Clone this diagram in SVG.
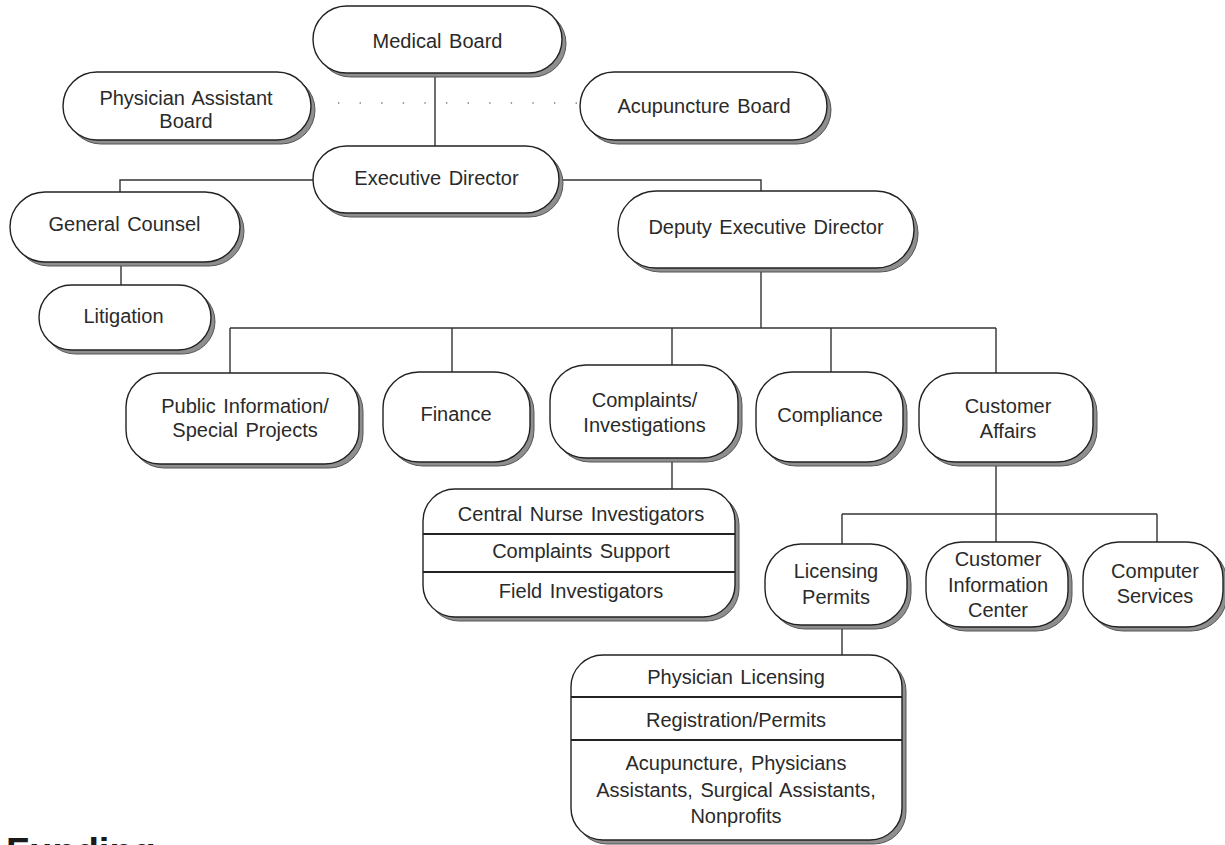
<svg xmlns="http://www.w3.org/2000/svg" width="1225" height="845" viewBox="0 0 1225 845">
<style>
.sh{fill:#8e8e8e;stroke:#555;stroke-width:1}
.bx{fill:#fff;stroke:#222;stroke-width:1.4}
.ln{stroke:#333;stroke-width:1.4;fill:none}
.dv{stroke:#222;stroke-width:2}
text{font-family:"Liberation Sans",Arial,sans-serif;font-size:20px;fill:#2a2a2a;text-anchor:middle;word-spacing:2px}
.big{font-size:38px;font-weight:bold;text-anchor:start;fill:#1a1a1a;word-spacing:0}
</style>
<rect width="1225" height="845" fill="#fff"/>
<g id="connectors">
<line class="ln" x1="435" y1="73" x2="435" y2="146"/>
<line x1="338" y1="103" x2="578" y2="103" stroke="#777" stroke-width="1.3" stroke-dasharray="1.3 20.3"/>
<polyline class="ln" points="313,180 120,180 120,192"/>
<polyline class="ln" points="559,180 761,180 761,191"/>
<line class="ln" x1="121" y1="262" x2="121" y2="285"/>
<line class="ln" x1="761" y1="268" x2="761" y2="328"/>
<line class="ln" x1="230" y1="328" x2="996" y2="328"/>
<line class="ln" x1="230" y1="328" x2="230" y2="373"/>
<line class="ln" x1="452" y1="328" x2="452" y2="372"/>
<line class="ln" x1="672" y1="328" x2="672" y2="365" stroke-width="2"/>
<line class="ln" x1="831" y1="328" x2="831" y2="372"/>
<line class="ln" x1="996" y1="328" x2="996" y2="373"/>
<line class="ln" x1="672" y1="458" x2="672" y2="489" stroke-width="2"/>
<line class="ln" x1="996" y1="462" x2="996" y2="542"/>
<line class="ln" x1="842" y1="514" x2="1157" y2="514" stroke-width="2"/>
<line class="ln" x1="842" y1="514" x2="842" y2="544"/>
<line class="ln" x1="1157" y1="514" x2="1157" y2="542"/>
<line class="ln" x1="842" y1="625" x2="842" y2="655"/>
</g>
<g id="medical-board">
<rect class="sh" x="317" y="10" width="249" height="67" rx="33.5"/>
<rect class="bx" x="313" y="6" width="249" height="67" rx="33.5"/>
<text x="437.5" y="48">Medical Board</text>
</g>
<g id="physician-assistant-board">
<rect class="sh" x="67" y="76" width="248" height="68" rx="34"/>
<rect class="bx" x="63" y="72" width="248" height="68" rx="34"/>
<text x="186" y="105">Physician Assistant</text>
<text x="186" y="128">Board</text>
</g>
<g id="acupuncture-board">
<rect class="sh" x="584" y="76" width="247" height="68" rx="34"/>
<rect class="bx" x="580" y="72" width="247" height="68" rx="34"/>
<text x="704" y="113">Acupuncture Board</text>
</g>
<g id="executive-director">
<rect class="sh" x="317" y="150" width="246" height="67" rx="33.5"/>
<rect class="bx" x="313" y="146" width="246" height="67" rx="33.5"/>
<text x="436.5" y="185">Executive Director</text>
</g>
<g id="general-counsel">
<rect class="sh" x="14" y="196" width="230" height="70" rx="35"/>
<rect class="bx" x="10" y="192" width="230" height="70" rx="35"/>
<text x="124.5" y="231">General Counsel</text>
</g>
<g id="litigation">
<rect class="sh" x="43" y="289" width="172" height="65" rx="32.5"/>
<rect class="bx" x="39" y="285" width="172" height="65" rx="32.5"/>
<text x="123.5" y="323">Litigation</text>
</g>
<g id="deputy-executive-director">
<rect class="sh" x="622" y="195" width="296" height="77" rx="38"/>
<rect class="bx" x="618" y="191" width="296" height="77" rx="38"/>
<text x="766" y="234">Deputy Executive Director</text>
</g>
<g id="public-information">
<rect class="sh" x="130" y="377" width="233" height="91" rx="34"/>
<rect class="bx" x="126" y="373" width="233" height="91" rx="34"/>
<text x="245" y="413">Public Information/</text>
<text x="245" y="437">Special Projects</text>
</g>
<g id="finance">
<rect class="sh" x="387" y="376" width="147" height="90" rx="36"/>
<rect class="bx" x="383" y="372" width="147" height="90" rx="36"/>
<text x="456" y="421">Finance</text>
</g>
<g id="complaints-investigations">
<rect class="sh" x="554" y="369" width="188" height="93" rx="36"/>
<rect class="bx" x="550" y="365" width="188" height="93" rx="36"/>
<text x="644.5" y="407">Complaints/</text>
<text x="644.5" y="432">Investigations</text>
</g>
<g id="compliance">
<rect class="sh" x="760" y="376" width="147" height="90" rx="36"/>
<rect class="bx" x="756" y="372" width="147" height="90" rx="36"/>
<text x="830" y="422">Compliance</text>
</g>
<g id="customer-affairs">
<rect class="sh" x="923" y="377" width="174" height="89" rx="36"/>
<rect class="bx" x="919" y="373" width="174" height="89" rx="36"/>
<text x="1008" y="413">Customer</text>
<text x="1008" y="438">Affairs</text>
</g>
<g id="complaints-units">
<rect class="sh" x="427" y="493" width="312" height="128" rx="32"/>
<rect class="bx" x="423" y="489" width="312" height="128" rx="32"/>
<line class="dv" x1="423" y1="534" x2="735" y2="534"/>
<line class="dv" x1="423" y1="572" x2="735" y2="572"/>
<text x="581" y="521">Central Nurse Investigators</text>
<text x="581" y="558">Complaints Support</text>
<text x="581" y="598">Field Investigators</text>
</g>
<g id="licensing-permits">
<rect class="sh" x="769" y="548" width="142" height="81" rx="36"/>
<rect class="bx" x="765" y="544" width="142" height="81" rx="36"/>
<text x="836" y="578">Licensing</text>
<text x="836" y="604">Permits</text>
</g>
<g id="customer-information-center">
<rect class="sh" x="930" y="546" width="142" height="85" rx="36"/>
<rect class="bx" x="926" y="542" width="142" height="85" rx="36"/>
<text x="998" y="566">Customer</text>
<text x="998" y="592">Information</text>
<text x="998" y="617">Center</text>
</g>
<g id="computer-services">
<rect class="sh" x="1087" y="546" width="140" height="85" rx="36"/>
<rect class="bx" x="1083" y="542" width="140" height="85" rx="36"/>
<text x="1155" y="578">Computer</text>
<text x="1155" y="603">Services</text>
</g>
<g id="licensing-units">
<rect class="sh" x="575" y="659" width="331" height="185" rx="32"/>
<rect class="bx" x="571" y="655" width="331" height="185" rx="32"/>
<line class="dv" x1="571" y1="697" x2="902" y2="697"/>
<line class="dv" x1="571" y1="740" x2="902" y2="740"/>
<text x="736" y="684">Physician Licensing</text>
<text x="736" y="727">Registration/Permits</text>
<text x="736" y="770">Acupuncture, Physicians</text>
<text x="736" y="797">Assistants, Surgical Assistants,</text>
<text x="736" y="823">Nonprofits</text>
</g>
<text class="big" x="6" y="865">Funding</text>
</svg>
